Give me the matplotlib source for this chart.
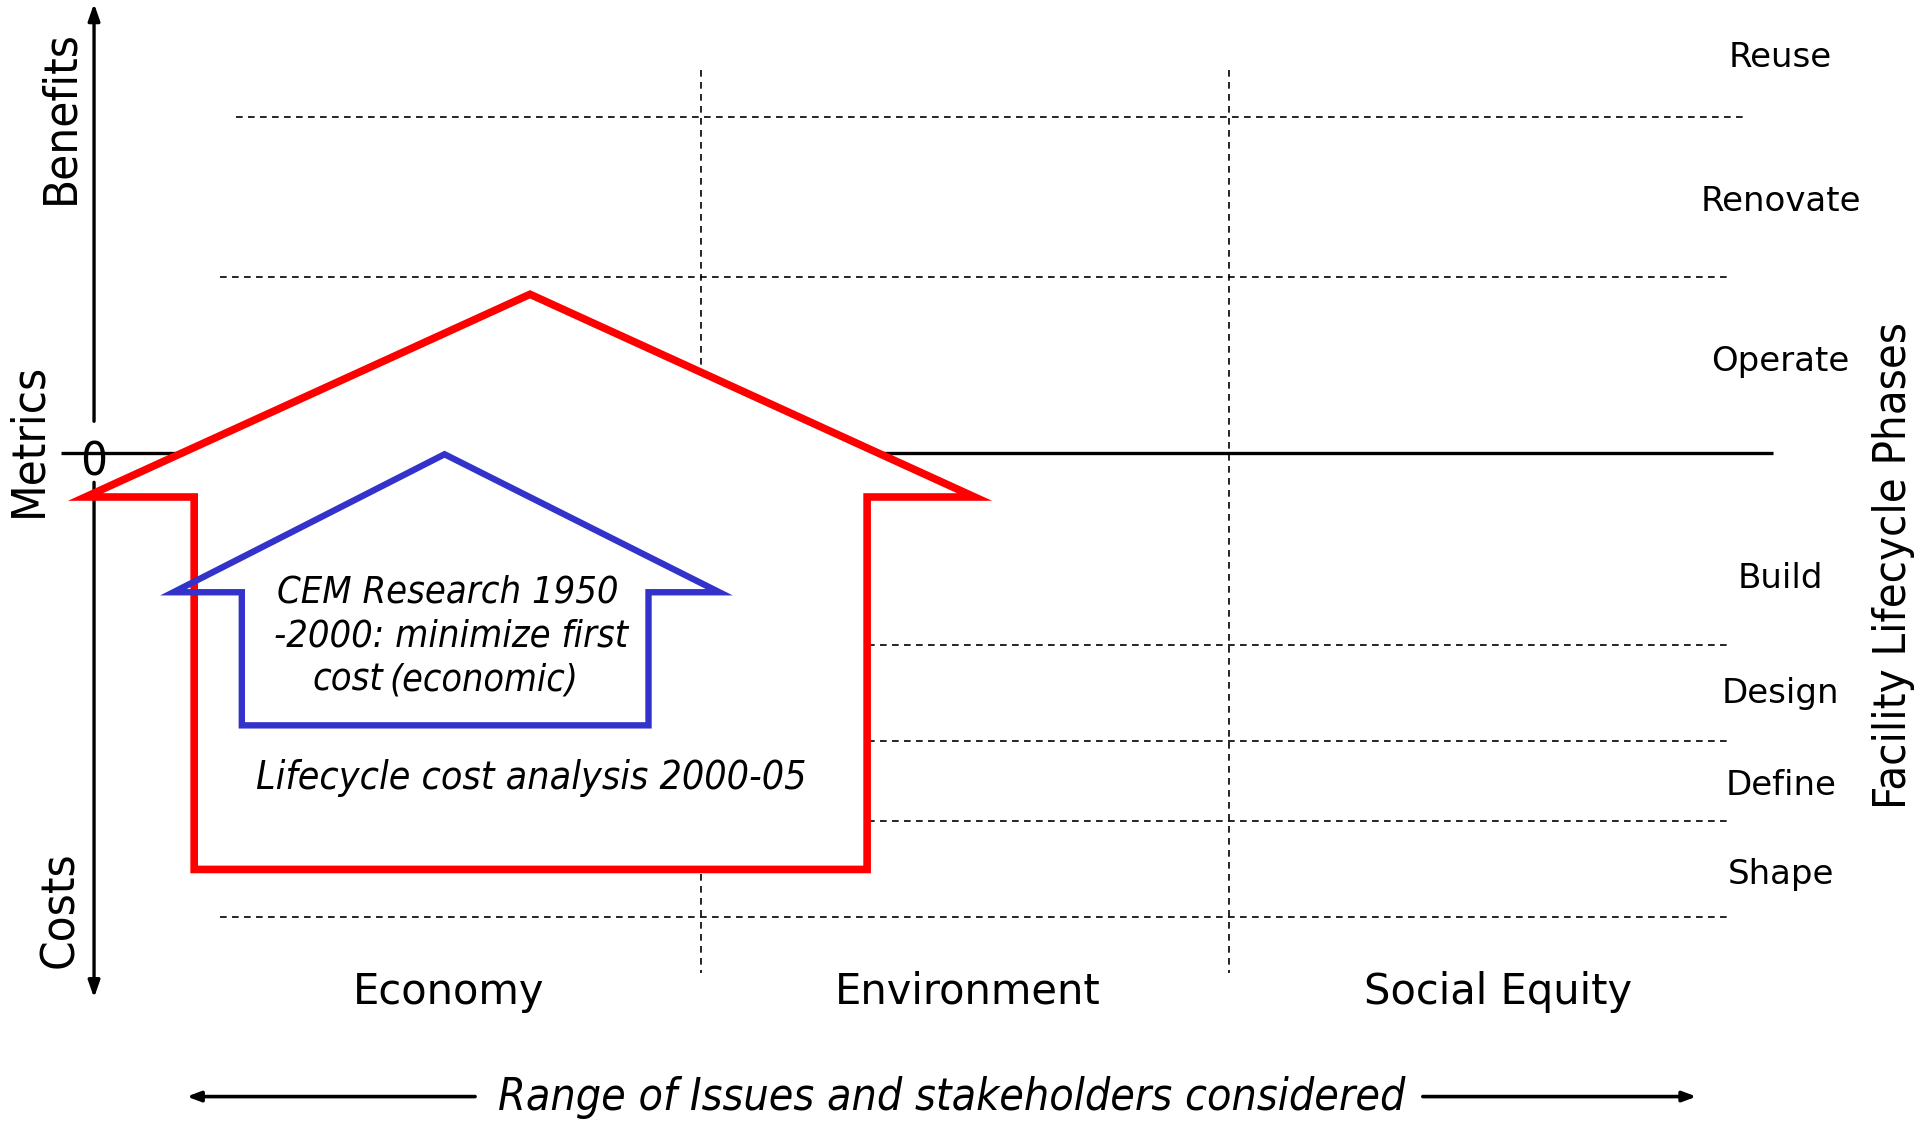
import matplotlib
matplotlib.use("Agg")
import matplotlib.pyplot as plt
from matplotlib import font_manager as fm
from matplotlib.patches import Polygon

names = {f.name for f in fm.fontManager.ttflist}
NARROW = 'Liberation Sans Narrow' if 'Liberation Sans Narrow' in names else 'DejaVu Sans'
NSTRETCH = 'normal' if NARROW == 'Liberation Sans Narrow' else 'condensed'

# ---- data (diagram units: shrunk reference pixels) ----
phases = ["Reuse", "Renovate", "Operate", "Build", "Design", "Define", "Shape"]
phase_y = [47, 165, 296, 474, 568, 643, 716]
phase_x = 1458
hlines_y = [96, 227, 528, 607, 672, 751]
hlines_x0 = [193, 180, 180, 180, 180, 180]
hlines_x1 = [1428, 1415, 1415, 1415, 1415, 1415]
categories = ["Economy", "Environment", "Social Equity"]
category_x = [367, 792, 1227]
vlines_x = [574, 1006]

red_house_x = [70, 159, 159, 710, 710, 798, 434]
red_house_y = [407, 407, 712, 712, 407, 407, 241]
blue_house_x = [142, 198, 198, 531, 531, 589, 364]
blue_house_y = [485, 485, 594, 594, 485, 485, 372]

W, H = 1568, 918
fig = plt.figure(figsize=(19.15, 11.21), dpi=100)
ax = fig.add_axes([0, 0, 1, 1])
ax.set_xlim(0, W)
ax.set_ylim(H, 0)
ax.axis('off')

dash = (0, (4, 3.2))
for y, x0, x1 in zip(hlines_y, hlines_x0, hlines_x1):
    ax.plot([x0, x1], [y, y], color='black', lw=1.2, ls=dash, zorder=1)
for x in vlines_x:
    ax.plot([x, x], [57, 797], color='black', lw=1.2, ls=dash, zorder=1)

# zero line
ax.plot([50, 1452], [371, 371], color='black', lw=2.4, zorder=1, solid_capstyle='butt')

# vertical metric axis
ax.annotate('', xy=(77, 3), xytext=(77, 345),
            arrowprops=dict(arrowstyle='-|>,head_length=1.0,head_width=0.35', color='black', lw=2.4,
                            shrinkA=0, shrinkB=0), zorder=2)
ax.annotate('', xy=(77, 817), xytext=(77, 395),
            arrowprops=dict(arrowstyle='-|>,head_length=1.0,head_width=0.35', color='black', lw=2.4,
                            shrinkA=0, shrinkB=0), zorder=2)

# houses
red = Polygon(list(zip(red_house_x, red_house_y)), closed=True, facecolor='white',
              edgecolor='#ff0000', lw=5.5, joinstyle='miter', zorder=3)
ax.add_patch(red)
blue = Polygon(list(zip(blue_house_x, blue_house_y)), closed=True, facecolor='none',
               edgecolor='#3333cc', lw=4.6, joinstyle='miter', zorder=4)
ax.add_patch(blue)

# texts
ax.text(77, 379, "0", fontsize=34, ha='center', va='center', family=NARROW, stretch=NSTRETCH, zorder=6)
ax.text(50, 96, "Benefits", fontsize=34, rotation=90, ha='center', va='center',
        family=NARROW, stretch=NSTRETCH)
ax.text(24, 360, "Metrics", fontsize=34, rotation=90, ha='center', va='center',
        family=NARROW, stretch=NSTRETCH)
ax.text(50, 745, "Costs", fontsize=34, rotation=90, ha='center', va='center',
        family=NARROW, stretch=NSTRETCH)
ax.text(1550, 463, "Facility Lifecycle Phases", fontsize=32.5, rotation=90, ha='center', va='center',
        family=NARROW, stretch=NSTRETCH)

for lab, y in zip(phases, phase_y):
    ax.text(phase_x, y, lab, fontsize=24.5, ha='center', va='center', family='DejaVu Sans')

for lab, x in zip(categories, category_x):
    ax.text(x, 812, lab, fontsize=30, ha='center', va='center', family='DejaVu Sans')

ax.text(779, 899, "Range of Issues and stakeholders considered", fontsize=32, style='italic',
        ha='center', va='center', family=NARROW, stretch=NSTRETCH)
ax.annotate('', xy=(153, 898), xytext=(389, 898),
            arrowprops=dict(arrowstyle='-|>,head_length=0.8,head_width=0.3', color='black', lw=2.6,
                            shrinkA=0, shrinkB=0))
ax.annotate('', xy=(1389, 898), xytext=(1165, 898),
            arrowprops=dict(arrowstyle='-|>,head_length=0.8,head_width=0.3', color='black', lw=2.6,
                            shrinkA=0, shrinkB=0))

ax.text(367, 485, "CEM Research 1950", fontsize=27.3, style='italic', ha='center', va='center',
        family=NARROW, stretch=NSTRETCH, zorder=6)
ax.text(369, 521, "-2000: minimize first", fontsize=27.3, style='italic', ha='center', va='center',
        family=NARROW, stretch=NSTRETCH, zorder=6)
ax.text(314, 557, "cost", fontsize=27.3, style='italic', ha='right', va='center',
        family=NARROW, stretch=NSTRETCH, zorder=6)
ax.text(319, 557, "(economic)", fontsize=27, style='italic', ha='left', va='center',
        family=NARROW, stretch=NSTRETCH, zorder=6)
ax.text(435, 637, "Lifecycle cost analysis 2000-05", fontsize=28.2, style='italic', ha='center', va='center',
        family=NARROW, stretch=NSTRETCH, zorder=6)

fig.savefig("out.png", dpi=100, facecolor='white')
